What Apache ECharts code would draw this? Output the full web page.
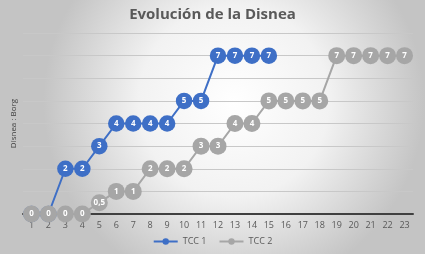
<!DOCTYPE html>
<html lang="es">
<head>
    <meta charset="UTF-8">
    <title>Evolución de la Disnea</title>
    <style>
        html, body { margin: 0; padding: 0; }
        #main { width: 425px; height: 254px; }
    </style>
</head>
<body>
    <div id="main"></div>
</body>
<script src="https://cdn.jsdelivr.net/npm/echarts@6/dist/echarts.min.js"></script>
<script>
    var days = ['1','2','3','4','5','6','7','8','9','10','11','12','13','14','15','16','17','18','19','20','21','22','23']
    var tcc1 = [0, 0, 2, 2, 3, 4, 4, 4, 4, 5, 5, 7, 7, 7, 7]
    var tcc2 = [0, 0, 0, 0, 0.5, 1, 1, 2, 2, 2, 3, 3, 4, 4, 5, 5, 5, 5, 7, 7, 7, 7, 7]

    var main = echarts.init(document.getElementById('main'))

    // gray series sits on its own layer so it covers the blue 0s at days 1-2
    function serie(name, values, color, layer, size) {
        return {
            name: name,
            type: 'line',
            zlevel: layer,
            data: values,
            symbol: 'circle',
            symbolSize: size,
            showAllSymbol: true,
            lineStyle: { color: color, width: 2 },
            itemStyle: { color: color },
            label: {
                show: true,
                position: 'inside',
                color: '#fff',
                fontSize: 8,
                fontWeight: 'bold',
                formatter: function (p) { return String(p.value).replace('.', ',') }
            }
        }
    }

    var option = {
        backgroundColor: {
            type: 'radial', x: 0.55, y: 0.4, r: 0.75,
            colorStops: [
                { offset: 0, color: '#ffffff' },
                { offset: 0.5, color: '#f2f2f2' },
                { offset: 1, color: '#c4c4c4' }
            ]
        },
        textStyle: { fontFamily: 'Open Sans' },
        title: {
            text: 'Evolución de la Disnea',
            left: 'center',
            top: 2,
            textStyle: { fontSize: 15, fontWeight: 'bold', color: '#595959', fontFamily: 'Open Sans' }
        },
        legend: {
            bottom: 3,
            left: 'center',
            itemWidth: 24,
            itemHeight: 8,
            itemGap: 12,
            textStyle: { fontSize: 9, color: '#595959' },
            data: ['TCC 1', 'TCC 2']
        },
        grid: { left: 23, right: 12, top: 33, bottom: 40 },
        xAxis: {
            type: 'category',
            data: days,
            axisLine: { lineStyle: { color: '#404040', width: 2 } },
            axisTick: { show: false },
            axisLabel: { color: '#595959', fontSize: 9, margin: 7 }
        },
        yAxis: {
            type: 'value',
            min: 0,
            max: 8,
            interval: 1,
            name: 'Disnea : Borg',
            nameLocation: 'middle',
            nameRotate: 90,
            nameGap: 5,
            nameTextStyle: { fontSize: 8, color: '#404040' },
            axisLabel: { show: false },
            axisLine: { show: false },
            axisTick: { show: false },
            splitLine: { lineStyle: { color: '#c8c8c8', width: 1 } }
        },
        series: [
            serie('TCC 1', tcc1, '#3e6fc6', 0, 16.5),
            serie('TCC 2', tcc2, '#a6a6a6', 1, 17)
        ]
    }
    main.setOption(option)
</script>
</html>
